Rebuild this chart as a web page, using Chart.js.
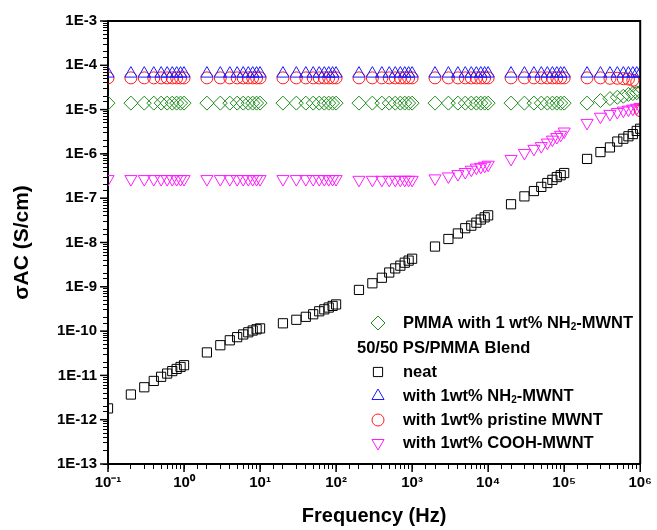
<!DOCTYPE html>
<html>
<head>
<meta charset="utf-8">
<script src="https://cdn.jsdelivr.net/npm/chart.js@4.4.0/dist/chart.umd.min.js"></script>
<style>
  html, body { margin: 0; padding: 0; background: #fff; }
</style>
</head>
<body>
<canvas id="graficoAC" width="657" height="530"></canvas>
<script>
// frecuencias (Hz)
var frequency = [0.1,
  0.2, 0.3, 0.4, 0.5, 0.6, 0.7, 0.8, 0.9, 1,
  2, 3, 4, 5, 6, 7, 8, 9, 10,
  20, 30, 40, 50, 60, 70, 80, 90, 100,
  200, 300, 400, 500, 600, 700, 800, 900, 1000,
  2000, 3000, 4000, 5000, 6000, 7000, 8000, 9000, 10000,
  20000, 30000, 40000, 50000, 60000, 70000, 80000, 90000, 100000,
  200000, 300000, 400000, 500000, 600000, 700000, 800000, 900000, 1000000];

// sigma AC (S/cm)
var pmmaNh2 = [1.4e-5,
  1.4e-5, 1.4e-5, 1.4e-5, 1.4e-5, 1.4e-5, 1.4e-5, 1.4e-5, 1.4e-5, 1.4e-5,
  1.4e-5, 1.4e-5, 1.4e-5, 1.4e-5, 1.4e-5, 1.4e-5, 1.4e-5, 1.4e-5, 1.4e-5,
  1.4e-5, 1.4e-5, 1.4e-5, 1.4e-5, 1.4e-5, 1.4e-5, 1.4e-5, 1.4e-5, 1.4e-5,
  1.4e-5, 1.4e-5, 1.4e-5, 1.4e-5, 1.4e-5, 1.4e-5, 1.4e-5, 1.4e-5, 1.4e-5,
  1.4e-5, 1.4e-5, 1.4e-5, 1.4e-5, 1.4e-5, 1.4e-5, 1.4e-5, 1.4e-5, 1.4e-5,
  1.4e-5, 1.4e-5, 1.4e-5, 1.4e-5, 1.4e-5, 1.4e-5, 1.4e-5, 1.4e-5, 1.4e-5,
  1.4e-5, 1.6e-5, 1.77e-5, 1.9e-5, 2.0e-5, 2.2e-5, 2.3e-5, 2.4e-5, 2.5e-5];

var neat = [1.8e-12,
  3.7e-12, 5.4e-12, 7.5e-12, 9.3e-12, 1.1e-11, 1.25e-11, 1.4e-11, 1.55e-11, 1.7e-11,
  3.3e-11, 4.8e-11, 6.2e-11, 7.3e-11, 8.4e-11, 9.4e-11, 1.03e-10, 1.1e-10, 1.15e-10,
  1.5e-10, 1.8e-10, 2.1e-10, 2.4e-10, 2.8e-10, 3.1e-10, 3.4e-10, 3.7e-10, 4.0e-10,
  8.5e-10, 1.2e-9, 1.6e-9, 2.1e-9, 2.6e-9, 3.0e-9, 3.5e-9, 3.9e-9, 4.3e-9,
  8.1e-9, 1.2e-8, 1.6e-8, 2.1e-8, 2.4e-8, 2.8e-8, 3.3e-8, 3.7e-8, 4.1e-8,
  7.3e-8, 1.1e-7, 1.45e-7, 1.8e-7, 2.2e-7, 2.6e-7, 3.0e-7, 3.3e-7, 3.7e-7,
  7.7e-7, 1.1e-6, 1.4e-6, 1.9e-6, 2.2e-6, 2.5e-6, 2.8e-6, 3.3e-6, 3.7e-6];

var nh2Blend = [6.5e-5,
  6.5e-5, 6.5e-5, 6.5e-5, 6.5e-5, 6.5e-5, 6.5e-5, 6.5e-5, 6.5e-5, 6.5e-5,
  6.5e-5, 6.5e-5, 6.5e-5, 6.5e-5, 6.5e-5, 6.5e-5, 6.5e-5, 6.5e-5, 6.5e-5,
  6.5e-5, 6.5e-5, 6.5e-5, 6.5e-5, 6.5e-5, 6.5e-5, 6.5e-5, 6.5e-5, 6.5e-5,
  6.5e-5, 6.5e-5, 6.5e-5, 6.5e-5, 6.5e-5, 6.5e-5, 6.5e-5, 6.5e-5, 6.5e-5,
  6.5e-5, 6.5e-5, 6.5e-5, 6.5e-5, 6.5e-5, 6.5e-5, 6.5e-5, 6.5e-5, 6.5e-5,
  6.5e-5, 6.5e-5, 6.5e-5, 6.5e-5, 6.5e-5, 6.5e-5, 6.5e-5, 6.5e-5, 6.5e-5,
  6.5e-5, 6.5e-5, 6.5e-5, 6.5e-5, 6.5e-5, 6.5e-5, 6.5e-5, 6.5e-5, 6.5e-5];

var pristineBlend = [5.2e-5,
  5.2e-5, 5.2e-5, 5.2e-5, 5.2e-5, 5.2e-5, 5.2e-5, 5.2e-5, 5.2e-5, 5.2e-5,
  5.2e-5, 5.2e-5, 5.2e-5, 5.2e-5, 5.2e-5, 5.2e-5, 5.2e-5, 5.2e-5, 5.2e-5,
  5.2e-5, 5.2e-5, 5.2e-5, 5.2e-5, 5.2e-5, 5.2e-5, 5.2e-5, 5.2e-5, 5.2e-5,
  5.2e-5, 5.2e-5, 5.2e-5, 5.2e-5, 5.2e-5, 5.2e-5, 5.2e-5, 5.2e-5, 5.2e-5,
  5.2e-5, 5.2e-5, 5.2e-5, 5.2e-5, 5.2e-5, 5.2e-5, 5.2e-5, 5.2e-5, 5.2e-5,
  5.2e-5, 5.2e-5, 5.2e-5, 5.2e-5, 5.2e-5, 5.2e-5, 5.2e-5, 5.2e-5, 5.2e-5,
  5.2e-5, 5.2e-5, 5.1e-5, 5.1e-5, 5.0e-5, 4.9e-5, 4.6e-5, 4.2e-5, 9.5e-6];

var coohBlend = [2.7e-7,
  2.7e-7, 2.7e-7, 2.7e-7, 2.7e-7, 2.7e-7, 2.7e-7, 2.7e-7, 2.7e-7, 2.7e-7,
  2.7e-7, 2.7e-7, 2.7e-7, 2.7e-7, 2.7e-7, 2.7e-7, 2.7e-7, 2.7e-7, 2.7e-7,
  2.7e-7, 2.7e-7, 2.7e-7, 2.7e-7, 2.7e-7, 2.7e-7, 2.7e-7, 2.7e-7, 2.7e-7,
  2.6e-7, 2.6e-7, 2.6e-7, 2.6e-7, 2.6e-7, 2.6e-7, 2.6e-7, 2.6e-7, 2.6e-7,
  2.8e-7, 3.1e-7, 3.5e-7, 3.9e-7, 4.4e-7, 4.9e-7, 5.1e-7, 5.4e-7, 5.7e-7,
  7.7e-7, 1.05e-6, 1.3e-6, 1.5e-6, 1.8e-6, 2.1e-6, 2.4e-6, 2.7e-6, 3.2e-6,
  5.0e-6, 6.9e-6, 8.0e-6, 8.8e-6, 9.5e-6, 1.0e-5, 1.05e-5, 1.1e-5, 1.15e-5];

var xTickLabels = ['10⁻¹', '10⁰', '10¹', '10²', '10³', '10⁴', '10⁵', '10⁶'];
var yTickLabels = ['1E-13', '1E-12', '1E-11', '1E-10', '1E-9', '1E-8', '1E-7', '1E-6', '1E-5', '1E-4', '1E-3'];
var legendLabels = ['PMMA with 1 wt% NH₂-MWNT', 'neat', 'with 1wt% NH₂-MWNT', 'with 1wt% pristine MWNT', 'with 1wt% COOH-MWNT'];
var legendHeader = '50/50 PS/PMMA Blend';

var FONT = "'Liberation Sans', Arial, sans-serif";

function puntos(serie) {
  return frequency.map(function (f, i) { return { x: f, y: serie[i] }; });
}

function esMayor(v) {
  var l = Math.log10(v);
  return Math.abs(l - Math.round(l)) < 1e-6;
}

var estilos = [
  { label: legendLabels[0], data: pmmaNh2, color: '#1e8c1e', style: 'rectRot', r: 7, rot: 0 },
  { label: legendLabels[1], data: neat, color: '#000000', style: 'rect', r: 6.5, rot: 0 },
  { label: legendLabels[2], data: nh2Blend, color: '#1a1aff', style: 'triangle', r: 7, rot: 0 },
  { label: legendLabels[3], data: pristineBlend, color: '#ff1a1a', style: 'circle', r: 6, rot: 0 },
  { label: legendLabels[4], data: coohBlend, color: '#ff1aff', style: 'triangle', r: 7, rot: 180 }
];

// texto con subindice para el "2"
function textoRico(ctx, txt, x, y, size) {
  var partes = txt.split('₂');
  var cx = x;
  for (var i = 0; i < partes.length; i++) {
    ctx.font = 'bold ' + size + 'px ' + FONT;
    ctx.fillText(partes[i], cx, y);
    cx += ctx.measureText(partes[i]).width;
    if (i < partes.length - 1) {
      ctx.font = 'bold ' + Math.round(size * 0.6) + 'px ' + FONT;
      ctx.fillText('2', cx, y + 4);
      cx += ctx.measureText('2').width;
    }
  }
}

var marcoYLeyenda = {
  id: 'marcoYLeyenda',
  afterDraw: function (chart) {
    var ctx = chart.ctx;
    var a = chart.chartArea;
    ctx.save();
    // marco superior y derecho
    ctx.strokeStyle = '#000';
    ctx.lineWidth = 2;
    ctx.beginPath();
    ctx.moveTo(a.left, a.top);
    ctx.lineTo(a.right, a.top);
    ctx.lineTo(a.right, a.bottom);
    ctx.stroke();

    // ticks mayores mas largos
    ctx.lineWidth = 1.5;
    var xs = chart.scales.x, ys = chart.scales.y;
    xs.ticks.forEach(function (t) {
      if (!esMayor(t.value)) return;
      var px = xs.getPixelForValue(t.value);
      ctx.beginPath(); ctx.moveTo(px, a.bottom); ctx.lineTo(px, a.bottom + 8); ctx.stroke();
    });
    ys.ticks.forEach(function (t) {
      if (!esMayor(t.value)) return;
      var py = ys.getPixelForValue(t.value);
      ctx.beginPath(); ctx.moveTo(a.left, py); ctx.lineTo(a.left - 8, py); ctx.stroke();
    });

    // leyenda
    var filas = [323, 372, 396, 420, 443];
    ctx.textBaseline = 'middle';
    ctx.fillStyle = '#000';
    estilos.forEach(function (s, i) {
      ctx.strokeStyle = s.color;
      ctx.fillStyle = 'rgba(0,0,0,0)';
      ctx.lineWidth = 1;
      Chart.helpers.drawPoint(ctx, { pointStyle: s.style, radius: s.r, rotation: s.rot, borderWidth: 1 }, 378, filas[i]);
      ctx.fillStyle = '#000';
      textoRico(ctx, s.label, 403, filas[i], 16.5);
    });
    ctx.font = 'bold 16.5px ' + FONT;
    ctx.fillText(legendHeader, 357, 348);
    ctx.restore();
  }
};

var ctx = document.getElementById('graficoAC').getContext('2d');
var grafico = new Chart(ctx, {
  type: 'scatter',
  data: {
    datasets: estilos.map(function (s) {
      return {
        label: s.label,
        data: puntos(s.data),
        showLine: false,
        pointStyle: s.style,
        pointRadius: s.r,
        pointHoverRadius: s.r,
        pointRotation: s.rot,
        borderColor: s.color,
        backgroundColor: 'rgba(0,0,0,0)',
        pointBorderWidth: 1,
        clip: 0
      };
    })
  },
  options: {
    responsive: false,
    animation: false,
    layout: { padding: { top: 21, right: 16, left: 0, bottom: 0 } },
    plugins: { legend: { display: false }, tooltip: { enabled: false } },
    scales: {
      x: {
        type: 'logarithmic',
        min: 0.1,
        max: 1e6,
        border: { color: '#000', width: 2 },
        grid: { drawOnChartArea: false, color: '#000', tickLength: 5, lineWidth: 1 },
        ticks: {
          autoSkip: false,
          maxRotation: 0,
          color: '#000',
          padding: 5,
          font: { family: FONT, weight: 'bold', size: 15 },
          callback: function (v) {
            return esMayor(v) ? xTickLabels[Math.round(Math.log10(v)) + 1] : '';
          }
        },
        title: {
          display: true,
          text: 'Frequency (Hz)',
          color: '#000',
          font: { family: FONT, weight: 'bold', size: 20 },
          padding: { top: 10, bottom: 2 }
        },
        afterFit: function (s) { s.height = 66; }
      },
      y: {
        type: 'logarithmic',
        min: 1e-13,
        max: 1e-3,
        border: { color: '#000', width: 2 },
        grid: { drawOnChartArea: false, color: '#000', tickLength: 5, lineWidth: 1 },
        ticks: {
          autoSkip: false,
          color: '#000',
          padding: 6,
          font: { family: FONT, weight: 'bold', size: 15 },
          callback: function (v) {
            return esMayor(v) ? yTickLabels[Math.round(Math.log10(v)) + 13] : '';
          }
        },
        title: {
          display: true,
          text: 'σAC (S/cm)',
          color: '#000',
          font: { family: FONT, weight: 'bold', size: 21 },
          padding: { top: 10, bottom: 4 }
        },
        afterFit: function (s) { s.width = 108; }
      }
    }
  },
  plugins: [marcoYLeyenda]
});
</script>
</body>
</html>
